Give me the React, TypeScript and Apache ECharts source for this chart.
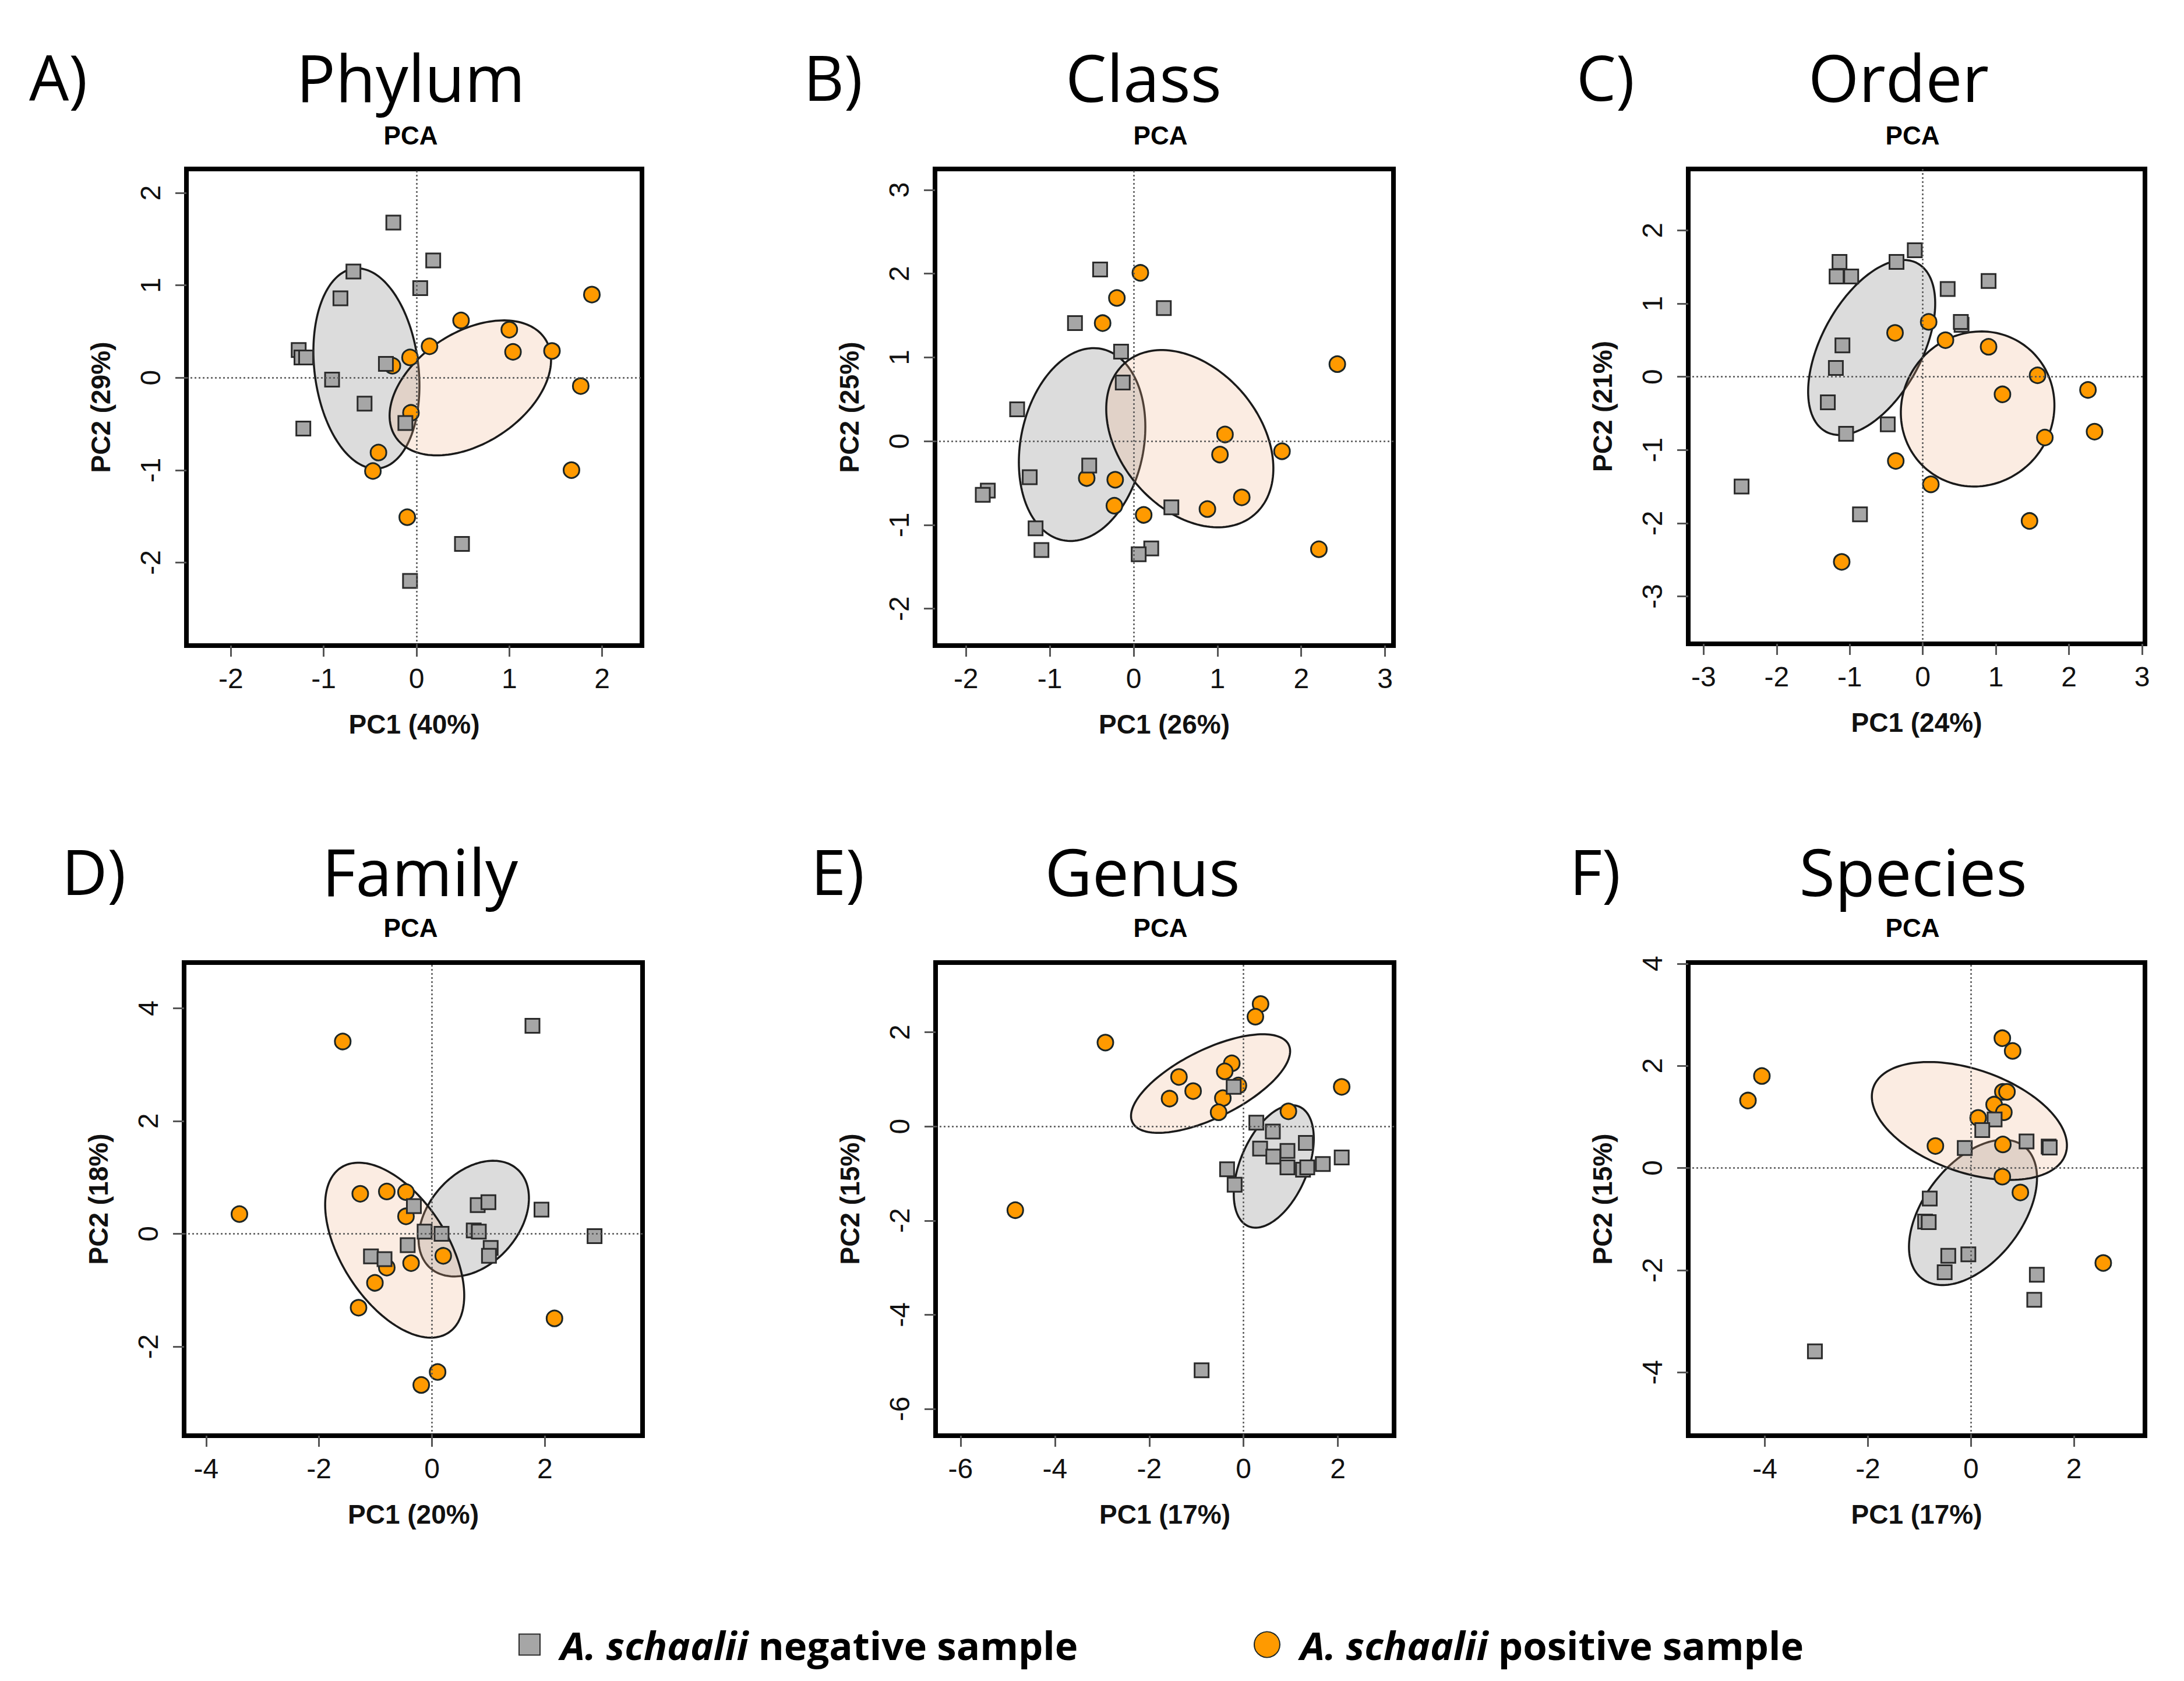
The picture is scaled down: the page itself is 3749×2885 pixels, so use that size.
import React, { useEffect, useRef } from "react";
import * as echarts from "echarts";

// ---------------- data ----------------
const panelLetters = ["A)", "B)", "C)", "D)", "E)", "F)"];
const panelTitles = ["Phylum", "Class", "Order", "Family", "Genus", "Species"];
const subTitle = "PCA";
const pc1Labels = ["PC1 (40%)", "PC1 (26%)", "PC1 (24%)", "PC1 (20%)", "PC1 (17%)", "PC1 (17%)"];
const pc2Labels = ["PC2 (29%)", "PC2 (25%)", "PC2 (21%)", "PC2 (18%)", "PC2 (15%)", "PC2 (15%)"];
const negName = "A. schaalii negative sample";
const posName = "A. schaalii positive sample";

const xRanges = [[-2.48, 2.43], [-2.37, 3.1], [-3.21, 3.04], [-4.39, 3.73], [-6.53, 3.19], [-5.49, 3.38]];
const yRanges = [[-2.9, 2.26], [-2.44, 3.25], [-3.65, 2.84], [-3.58, 4.81], [-6.57, 3.48], [-5.24, 4.02]];
const xTicks = [[-2, -1, 0, 1, 2], [-2, -1, 0, 1, 2, 3], [-3, -2, -1, 0, 1, 2, 3], [-4, -2, 0, 2], [-6, -4, -2, 0, 2], [-4, -2, 0, 2]];
const yTicks = [[-2, -1, 0, 1, 2], [-2, -1, 0, 1, 2, 3], [-3, -2, -1, 0, 1, 2], [-2, 0, 2, 4], [-6, -4, -2, 0, 2], [-4, -2, 0, 2, 4]];

const phylumNeg = [[-0.25, 1.68], [0.18, 1.27], [0.04, 0.97], [-0.68, 1.15], [-0.82, 0.86], [-1.27, 0.3], [-1.24, 0.22], [-1.19, 0.22], [-0.33, 0.15], [-0.91, -0.02], [-0.56, -0.28], [-1.22, -0.55], [-0.12, -0.49], [0.49, -1.8], [-0.07, -2.2]];
const phylumPos = [[1.89, 0.9], [0.48, 0.62], [1.0, 0.52], [0.14, 0.34], [-0.07, 0.22], [1.04, 0.28], [1.46, 0.29], [-0.26, 0.13], [1.77, -0.09], [-0.06, -0.38], [-0.41, -0.81], [-0.47, -1.01], [1.67, -1.0], [-0.1, -1.51]];
const classNeg = [[-0.4, 2.05], [0.36, 1.59], [-0.7, 1.41], [-0.15, 1.07], [-0.13, 0.7], [-1.39, 0.38], [-0.53, -0.29], [-1.24, -0.43], [-1.74, -0.59], [-1.8, -0.64], [-1.17, -1.04], [-1.1, -1.3], [0.45, -0.79], [0.21, -1.28], [0.06, -1.35]];
const classPos = [[0.08, 2.01], [-0.2, 1.71], [-0.37, 1.41], [2.43, 0.92], [1.09, 0.08], [1.03, -0.16], [1.77, -0.12], [-0.56, -0.44], [-0.22, -0.46], [-0.23, -0.77], [0.12, -0.88], [1.29, -0.67], [0.88, -0.81], [2.21, -1.29]];
const orderNeg = [[-0.11, 1.73], [-0.36, 1.57], [-1.14, 1.57], [-1.18, 1.37], [-0.98, 1.37], [0.34, 1.2], [0.9, 1.31], [0.53, 0.71], [0.52, 0.75], [-1.1, 0.43], [-1.19, 0.12], [-1.3, -0.35], [-1.05, -0.78], [-0.48, -0.65], [-2.48, -1.5], [-0.86, -1.88]];
const orderPos = [[0.08, 0.75], [-0.38, 0.6], [0.31, 0.5], [0.9, 0.41], [1.57, 0.02], [1.09, -0.24], [2.26, -0.18], [2.35, -0.75], [1.67, -0.83], [-0.37, -1.15], [0.11, -1.47], [1.46, -1.97], [-1.11, -2.53]];
const familyNeg = [[1.78, 3.69], [-0.32, 0.49], [0.81, 0.51], [1.0, 0.56], [1.94, 0.43], [2.88, -0.04], [-0.13, 0.04], [0.17, 0.0], [0.74, 0.06], [0.83, 0.04], [-0.43, -0.2], [1.04, -0.25], [1.01, -0.39], [-1.08, -0.4], [-0.84, -0.45]];
const familyPos = [[-1.58, 3.41], [-3.41, 0.35], [-1.27, 0.71], [-0.8, 0.75], [-0.46, 0.74], [-0.46, 0.31], [0.2, -0.39], [-0.37, -0.52], [-0.8, -0.6], [-1.01, -0.87], [-1.3, -1.31], [2.17, -1.5], [0.1, -2.45], [-0.19, -2.68]];
const genusNeg = [[-0.21, 0.84], [0.27, 0.08], [0.62, -0.11], [1.32, -0.35], [0.35, -0.47], [0.93, -0.52], [0.63, -0.64], [0.93, -0.87], [1.26, -0.92], [1.35, -0.87], [1.68, -0.8], [2.08, -0.66], [-0.35, -0.91], [-0.19, -1.24], [-0.89, -5.18]];
const genusPos = [[0.36, 2.6], [0.25, 2.33], [-2.93, 1.78], [-0.25, 1.34], [-0.4, 1.17], [-1.37, 1.05], [-0.11, 0.87], [-1.07, 0.75], [-1.57, 0.59], [-0.44, 0.6], [-0.53, 0.3], [2.08, 0.84], [0.95, 0.32], [-4.84, -1.78]];
const speciesNeg = [[0.46, 0.95], [0.22, 0.74], [-0.12, 0.39], [1.08, 0.52], [1.51, 0.42], [1.53, 0.4], [-0.8, -0.6], [-0.89, -1.05], [-0.82, -1.06], [-0.44, -1.72], [-0.05, -1.69], [-0.51, -2.04], [1.28, -2.09], [1.23, -2.58], [-3.03, -3.59]];
const speciesPos = [[0.61, 2.54], [0.81, 2.29], [-4.06, 1.8], [-4.33, 1.32], [0.62, 1.49], [0.7, 1.49], [0.45, 1.24], [0.64, 1.09], [0.14, 0.98], [-0.69, 0.43], [0.62, 0.46], [0.61, -0.17], [0.96, -0.48], [2.57, -1.86]];

// ellipses: [centre x, centre y, semi-major, semi-minor, angle in degrees]
const negEllipses = [[-0.54, 0.1, 1.09, 0.56, 97], [-0.615, -0.04, 1.165, 0.733, 78.6], [-0.7, 0.4, 1.31, 0.686, 61.4], [0.74, 0.27, 1.167, 0.804, 48.9], [0.64, -0.85, 1.38, 0.713, 67.1], [0.04, -0.87, 1.63, 0.954, 52.9]];
const posEllipses = [[0.58, -0.11, 0.965, 0.6, 33.5], [0.67, 0.03, 1.19, 0.835, -50], [0.75, -0.44, 1.08, 1.03, 50], [-0.66, -0.29, 1.746, 0.936, -57.1], [-0.7, 0.91, 1.85, 0.72, 26.5], [-0.03, 0.92, 1.977, 1.006, -19.4]];

const negPoints = [phylumNeg, classNeg, orderNeg, familyNeg, genusNeg, speciesNeg];
const posPoints = [phylumPos, classPos, orderPos, familyPos, genusPos, speciesPos];

// ---------------- layout ----------------
const W = 3749;
const H = 2885;
const grids = [
  { left: 320, top: 290, width: 782, height: 818 },
  { left: 1605, top: 290, width: 787, height: 818 },
  { left: 2898, top: 290, width: 784, height: 815 },
  { left: 316, top: 1652, width: 787, height: 812 },
  { left: 1606, top: 1652, width: 787, height: 812 },
  { left: 2898, top: 1652, width: 784, height: 812 },
];
const letterPos = [[100, 131], [1430, 131], [2756, 131], [161, 1494], [1438, 1494], [2738, 1494]];
const titlePos = [[705, 131], [1963, 131], [3259, 131], [721, 1494], [1961, 1494], [3284, 1494]];
const pcaPos = [[705, 232], [1992, 232], [3283, 232], [705, 1592], [1992, 1592], [3283, 1592]];

const NEG_FILL = "#a6a6a6";
const POS_FILL = "#ff9a00";
const NEG_ELL = "rgba(150,150,150,0.33)";
const POS_ELL = "rgba(240,180,140,0.25)";
const TICK_FONT = "Liberation Sans";
const TITLE_FONT = "Open Sans";

function ellipseSeries(i: number, item: number[], fill: string) {
  return {
    type: "custom",
    xAxisIndex: i,
    yAxisIndex: i,
    z: 1,
    silent: true,
    dimensions: ["cx", "cy", "a", "b", "angle"],
    encode: { x: 0, y: 1 },
    data: [item],
    renderItem: (_params: any, api: any) => {
      const cx = api.value(0);
      const cy = api.value(1);
      const a = api.value(2);
      const b = api.value(3);
      const ang = (api.value(4) * Math.PI) / 180;
      const pts: number[][] = [];
      const n = 160;
      for (let k = 0; k < n; k++) {
        const t = (k / n) * 2 * Math.PI;
        const x = cx + a * Math.cos(t) * Math.cos(ang) - b * Math.sin(t) * Math.sin(ang);
        const y = cy + a * Math.cos(t) * Math.sin(ang) + b * Math.sin(t) * Math.cos(ang);
        pts.push(api.coord([x, y]));
      }
      return {
        type: "polygon",
        shape: { points: pts },
        style: { fill, stroke: "#1a1a1a", lineWidth: 3.5 },
      };
    },
  };
}

function textEl(text: string, x: number, y: number, size: number, family: string, weight: string) {
  return {
    type: "text",
    x,
    y,
    silent: true,
    style: {
      text,
      fontSize: size,
      fontFamily: family,
      fontWeight: weight,
      fill: "#000",
      align: "center",
      verticalAlign: "middle",
      textAlign: "center",
      textVerticalAlign: "middle",
    },
  };
}

function buildOption() {
  const series: any[] = [];
  for (let i = 0; i < 6; i++) {
    series.push(ellipseSeries(i, negEllipses[i], NEG_ELL));
    series.push(ellipseSeries(i, posEllipses[i], POS_ELL));
    series.push({
      type: "scatter",
      name: posName,
      xAxisIndex: i,
      yAxisIndex: i,
      z: 3,
      symbol: "circle",
      symbolSize: 27,
      itemStyle: { color: POS_FILL, borderColor: "#1c2626", borderWidth: 3, opacity: 1 },
      data: posPoints[i],
      markLine: {
        silent: true,
        symbol: "none",
        label: { show: false },
        lineStyle: { type: [3, 4], color: "#555", width: 2.5 },
        data: [{ xAxis: 0 }, { yAxis: 0 }],
      },
    });
    series.push({
      type: "scatter",
      name: negName,
      xAxisIndex: i,
      yAxisIndex: i,
      z: 4,
      symbol: "rect",
      symbolSize: 24,
      itemStyle: { color: NEG_FILL, borderColor: "#2b2b2b", borderWidth: 3, opacity: 1 },
      data: negPoints[i],
    });
  }

  const axisCommon = {
    type: "value",
    splitLine: { show: false },
    axisLine: { show: false, onZero: false },
  };

  const graphic: any[] = [];
  for (let i = 0; i < 6; i++) {
    graphic.push(textEl(panelLetters[i], letterPos[i][0], letterPos[i][1], 108, TITLE_FONT, "normal"));
    graphic.push(textEl(panelTitles[i], titlePos[i][0], titlePos[i][1], 112, TITLE_FONT, "normal"));
    graphic.push(textEl(subTitle, pcaPos[i][0], pcaPos[i][1], 44, TICK_FONT, "bold"));
  }

  const legendText = {
    fontSize: 67,
    fontWeight: "bold",
    fontFamily: TITLE_FONT,
    color: "#000",
    padding: [0, 0, 0, 30],
    rich: {
      i: { fontSize: 67, fontWeight: "bold", fontStyle: "italic", fontFamily: TITLE_FONT, color: "#000" },
    },
  };

  return {
    animation: false,
    backgroundColor: "#ffffff",
    grid: grids.map((g) => ({
      ...g,
      show: true,
      borderColor: "#000",
      borderWidth: 8,
      backgroundColor: "rgba(0,0,0,0)",
    })),
    xAxis: grids.map((_g, i) => ({
      ...axisCommon,
      gridIndex: i,
      min: xRanges[i][0],
      max: xRanges[i][1],
      axisTick: { show: true, inside: false, length: 19, lineStyle: { color: "#555", width: 3 }, customValues: xTicks[i] },
      axisLabel: { customValues: xTicks[i], fontSize: 48, color: "#111", margin: 32, fontFamily: TICK_FONT },
      name: pc1Labels[i],
      nameLocation: "middle",
      nameGap: 112,
      nameTextStyle: { fontSize: 46, fontWeight: "bold", fontFamily: TICK_FONT, color: "#111" },
    })),
    yAxis: grids.map((_g, i) => ({
      ...axisCommon,
      gridIndex: i,
      min: yRanges[i][0],
      max: yRanges[i][1],
      axisTick: { show: true, inside: false, length: 19, lineStyle: { color: "#555", width: 3 }, customValues: yTicks[i] },
      axisLabel: { customValues: yTicks[i], fontSize: 48, color: "#111", margin: 38, rotate: 90, fontFamily: TICK_FONT },
      name: pc2Labels[i],
      nameLocation: "middle",
      nameGap: 124,
      nameRotate: 90,
      nameTextStyle: { fontSize: 46, fontWeight: "bold", fontFamily: TICK_FONT, color: "#111" },
    })),
    legend: [
      {
        left: 885,
        top: 2784,
        selectedMode: false,
        itemWidth: 36,
        itemHeight: 36,
        data: [{ name: negName, icon: "rect" }],
        formatter: () => "{i|A. schaalii} negative sample",
        textStyle: legendText,
      },
      {
        left: 2147,
        top: 2784,
        selectedMode: false,
        itemWidth: 44,
        itemHeight: 44,
        data: [{ name: posName, icon: "circle" }],
        formatter: () => "{i|A. schaalii} positive sample",
        textStyle: legendText,
      },
    ],
    graphic,
    series,
  };
}

export default function App() {
  const ref = useRef<HTMLDivElement>(null);
  useEffect(() => {
    document.body.style.margin = "0";
    if (!ref.current) return;
    const chart = echarts.init(ref.current, undefined, { renderer: "svg", width: W, height: H });
    chart.setOption(buildOption() as any);
    return () => chart.dispose();
  }, []);
  return <div ref={ref} style={{ width: W, height: H, background: "#fff" }} />;
}
